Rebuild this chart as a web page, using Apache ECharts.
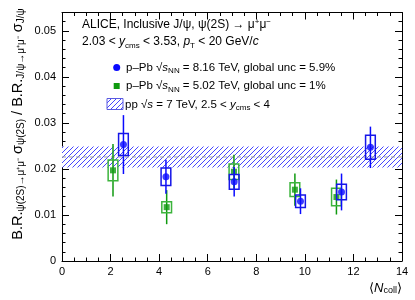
<!DOCTYPE html>
<html><head><meta charset="utf-8">
<script src="https://cdn.jsdelivr.net/npm/echarts@6/dist/echarts.min.js"></script>
<style>html,body{margin:0;padding:0;background:#fff}#c{width:415px;height:300px}</style>
</head><body><div id="c"></div>
<script>
// ---- data ----
const xTickLabels = ['0','2','4','6','8','10','12','14'];
const yTickLabels = ['0','0.01','0.02','0.03','0.04','0.05'];

// p-Pb 8.16 TeV
const nColl816 = [2.53, 4.28, 7.09, 9.82, 11.51, 12.70];
const ratio816 = [0.0253, 0.0183, 0.0172, 0.0130, 0.0150, 0.0247];
const stat816  = [0.0064, 0.0037, 0.0032, 0.0028, 0.0040, 0.0045];
const syst816  = [0.0024, 0.0019, 0.0016, 0.00135, 0.0017, 0.0026];

// p-Pb 5.02 TeV
const nColl502 = [2.10, 4.31, 7.08, 9.59, 11.30];
const ratio502 = [0.0197, 0.0117, 0.0194, 0.0155, 0.0139];
const stat502  = [0.0057, 0.0037, 0.0037, 0.0035, 0.0038];
const syst502  = [0.00225, 0.0012, 0.0017, 0.0015, 0.0019];

// pp 7 TeV band
const ppX = [0, 14];
const ppCenter = 0.0226;
const ppHalf = 0.0023;

// ---- styles ----
const FONT = '"Liberation Sans", Arial, Helvetica, sans-serif';
const BLUE = '#0a0aff';
const BLUE_BOX = '#1515e8';
const GREEN = '#109a10';
const GREEN_BOX = '#3cb43c';

function hatchCanvas() {
  const n = 5;
  const c = document.createElement('canvas');
  c.width = n; c.height = n;
  const g = c.getContext('2d');
  g.fillStyle = '#ffffff'; g.fillRect(0, 0, n, n);
  g.fillStyle = '#4646ff';
  for (let x = 0; x < n; x++) g.fillRect(x, n - 1 - x, 1, 1);
  return c;
}
const hatch = {image: hatchCanvas(), repeat: 'repeat'};

function errRender(color, boxColor) {
  return function (params, api) {
    const x = api.value(0), y = api.value(1), st = api.value(2), sy = api.value(3);
    const top = api.coord([x, y + st]), bot = api.coord([x, y - st]);
    const b1 = api.coord([x - 0.2, y + sy]), b2 = api.coord([x + 0.2, y - sy]);
    return {type: 'group', children: [
      {type: 'line', shape: {x1: top[0], y1: top[1], x2: bot[0], y2: bot[1]},
       style: {stroke: color, lineWidth: 1.5}},
      {type: 'rect', shape: {x: b1[0], y: b1[1], width: b2[0] - b1[0], height: b2[1] - b1[1]},
       style: {fill: 'none', stroke: boxColor, lineWidth: 1.5}}
    ]};
  };
}

function bandRender(params, api) {
  const p1 = api.coord([ppX[0], ppCenter + ppHalf]);
  const p2 = api.coord([ppX[1], ppCenter - ppHalf]);
  return {type: 'rect', shape: {x: p1[0], y: p1[1], width: p2[0] - p1[0], height: p2[1] - p1[1]},
          style: {fill: hatch, stroke: 'none'}};
}

const zip4 = (a, b, c, d) => a.map((v, i) => [v, b[i], c[i], d[i]]);

const axisCommon = {
  type: 'value',
  axisLine: {show: true, onZero: false, lineStyle: {color: '#000', width: 1}},
  splitLine: {show: false},
  axisPointer: {show: false}
};

function richFor(size) {
  return {
    sub: {fontSize: Math.round(size * 0.68), lineHeight: 8, verticalAlign: 'bottom', fill: '#000', fontFamily: FONT},
    sup: {fontSize: Math.round(size * 0.68), lineHeight: 8, verticalAlign: 'top', fill: '#000', fontFamily: FONT},
    i: {fontSize: size, fontStyle: 'italic', fill: '#000', fontFamily: FONT, lineHeight: 15},
    n: {fontSize: size, fill: '#000', fontFamily: FONT, lineHeight: 15}
  };
}
function txt(x, y, text, size, extra) {
  return {
    type: 'text', x: x, y: y, z: 10,
    style: Object.assign({
      text: text, fill: '#000', fontSize: size, fontFamily: FONT, lineHeight: 15,
      textAlign: 'left', textVerticalAlign: 'middle', rich: richFor(size)
    }, extra || {})
  };
}

const chart = echarts.init(document.getElementById('c'), null, {renderer: 'canvas'});
chart.setOption({
  animation: false,
  backgroundColor: '#fff',
  grid: {left: 62, right: 13, top: 12.5, bottom: 39, show: false},
  xAxis: [
    Object.assign({}, axisCommon, {
      min: 0, max: 14, interval: 2, position: 'bottom',
      axisTick: {inside: true, length: 7, lineStyle: {color: '#000'}},
      minorTick: {show: true, splitNumber: 4, length: 3.5, lineStyle: {color: '#000'}},
      axisLabel: {color: '#000', fontSize: 11, fontFamily: FONT, margin: 5,
        formatter: v => xTickLabels[Math.round(v / 2)] || ''}
    }),
    Object.assign({}, axisCommon, {
      min: 0, max: 14, interval: 2, position: 'top',
      axisTick: {inside: true, length: 7, lineStyle: {color: '#000'}},
      minorTick: {show: true, splitNumber: 4, length: 3.5, lineStyle: {color: '#000'}},
      axisLabel: {show: false}
    })
  ],
  yAxis: [
    Object.assign({}, axisCommon, {
      min: 0, max: 0.054, interval: 0.01, position: 'left',
      axisTick: {inside: true, length: 7, lineStyle: {color: '#000'}},
      axisLabel: {color: '#000', fontSize: 11, fontFamily: FONT, margin: 6,
        formatter: v => {
          const k = Math.round(v * 100);
          return Math.abs(v * 100 - k) < 1e-6 ? (yTickLabels[k] || '') : '';
        }}
    }),
    Object.assign({}, axisCommon, {
      min: 0, max: 0.054, interval: 0.002, position: 'left',
      axisLine: {show: false, onZero: false},
      axisTick: {inside: true, length: 3.5, lineStyle: {color: '#000'}},
      axisLabel: {show: false}
    }),
    Object.assign({}, axisCommon, {
      min: 0, max: 0.054, interval: 0.01, position: 'right',
      axisTick: {inside: true, length: 7, lineStyle: {color: '#000'}},
      axisLabel: {show: false}
    }),
    Object.assign({}, axisCommon, {
      min: 0, max: 0.054, interval: 0.002, position: 'right',
      axisLine: {show: false, onZero: false},
      axisTick: {inside: true, length: 3.5, lineStyle: {color: '#000'}},
      axisLabel: {show: false}
    })
  ],
  series: [
    {type: 'custom', z: 1, renderItem: bandRender, data: [[ppX[0], ppCenter]], silent: true, clip: true},
    {type: 'line', z: 1.5, data: ppX.map(x => [x, ppCenter]), symbol: 'none', silent: true,
      lineStyle: {color: '#a0a0a0', width: 1, type: [4, 3]}},
    {type: 'custom', z: 2, renderItem: errRender(GREEN, GREEN_BOX), data: zip4(nColl502, ratio502, stat502, syst502), silent: true},
    {type: 'scatter', z: 3, symbol: 'rect', symbolSize: 6, data: nColl502.map((x, i) => [x, ratio502[i]]),
      itemStyle: {color: GREEN}, silent: true},
    {type: 'custom', z: 4, renderItem: errRender(BLUE, BLUE_BOX), data: zip4(nColl816, ratio816, stat816, syst816), silent: true},
    {type: 'scatter', z: 5, symbol: 'circle', symbolSize: 7, data: nColl816.map((x, i) => [x, ratio816[i]]),
      itemStyle: {color: BLUE}, silent: true}
  ],
  graphic: [
    txt(82, 25, 'ALICE, Inclusive J/ψ, ψ(2S) → μ{sup|+}μ{sup|−}', 12),
    txt(82, 42, '2.03 < {i|y}{sub|cms} < 3.53, {i|p}{sub|T} < 20 GeV/{i|c}', 12),
    {type: 'circle', shape: {cx: 116.7, cy: 67.5, r: 3.5}, style: {fill: BLUE}, z: 10},
    txt(126, 67.5, 'p–Pb √{i|s}{sub|NN} = 8.16 TeV, global unc = 5.9%', 11.5),
    {type: 'rect', shape: {x: 113.7, y: 83, width: 6, height: 6}, style: {fill: GREEN}, z: 10},
    txt(126, 86, 'p–Pb √{i|s}{sub|NN} = 5.02 TeV, global unc = 1%', 11.5),
    {type: 'rect', shape: {x: 107, y: 98.5, width: 16, height: 11}, style: {fill: hatch, stroke: '#5a5ae0', lineWidth: 1}, z: 10},
    txt(125, 104.5, 'pp √{i|s} = 7 TeV, 2.5 < {i|y}{sub|cms} < 4', 11.5),
    txt(402, 288, '⟨{i|N}{sub|coll}⟩', 13, {textAlign: 'right'}),
    {type: 'text', x: 18, y: 124, rotation: Math.PI / 2, z: 10,
      style: {text: 'B.R.{sub|ψ(2S)→μ⁺μ⁻} σ{sub|ψ(2S)} / B.R.{sub|J/ψ→μ⁺μ⁻} σ{sub|J/ψ}',
        fill: '#000', fontSize: 14.5, fontFamily: FONT, lineHeight: 16,
        textAlign: 'center', textVerticalAlign: 'middle', rich: richFor(14.5)}}
  ]
});
</script></body></html>
